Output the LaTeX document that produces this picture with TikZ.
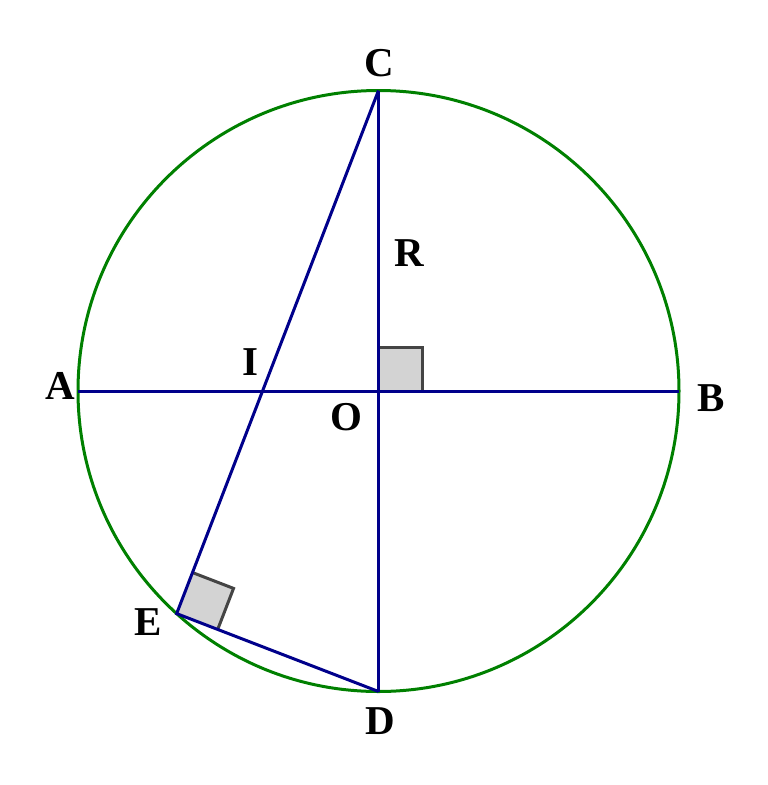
\documentclass[tikz,border=0pt]{standalone}
\usepackage{fontspec}
\setmainfont{Liberation Serif}
\usetikzlibrary{calc}
\definecolor{cgreen}{RGB}{0,128,0}
\definecolor{cnavy}{RGB}{0,0,139}
\definecolor{cfill}{RGB}{211,211,211}
\definecolor{cedge}{RGB}{68,68,68}
\tikzset{
  circ/.style={draw=cgreen, line width=3pt},
  seg/.style={draw=cnavy, line width=3pt},
  rightmark/.style={draw=cedge, line width=3pt},
  lbl/.style={font=\fontsize{41}{41}\selectfont\bfseries, inner sep=0pt}
}
\begin{document}
\begin{tikzpicture}[x=1pt,y=-1pt]
\useasboundingbox (0,0) rectangle (768,785);
\coordinate (O) at (378.5,391);
\def\rr{300.5}
\coordinate (A) at ($(O)+(-\rr,0)$);
\coordinate (B) at ($(O)+(\rr,0)$);
\coordinate (C) at ($(O)+(0,-\rr)$);
\coordinate (D) at ($(O)+(0,\rr)$);
\coordinate (E) at ($(O)+(132.2:\rr)$);
\coordinate (I) at (intersection of C--E and A--B);
% right angle marks
\coordinate (Oc) at ($(O)+(44,0)$);
\coordinate (Od) at ($(O)+(44,-44)$);
\coordinate (Oe) at ($(O)+(0,-44)$);
\fill[cfill] (O) rectangle (Od);
\draw[rightmark] (Oc) -- (Od) -- (Oe);
\coordinate (E1) at ($(E)!44pt!(C)$);
\coordinate (E2) at ($(E)!44pt!(D)$);
\coordinate (E3) at ($(E1)+(E2)-(E)$);
\fill[cfill] (E) -- (E1) -- (E3) -- (E2) -- cycle;
\draw[rightmark] (E1) -- (E3) -- (E2);
% circle
\draw[circ] (O) circle (\rr);
% segments
\draw[seg] (A) -- (B);
\draw[seg] (C) -- (D);
\draw[seg] (C) -- (E) -- (D);
% labels
\node[lbl] (lC) at (379.5,63) {C};
\node[lbl] (lR) at (409,253) {R};
\node[lbl] (lA) at (60,386) {A};
\node[lbl] (lI) at (250,362) {I};
\node[lbl] (lO) at (346,417) {O};
\node[lbl] (lB) at (711,398) {B};
\node[lbl] (lE) at (148,622) {E};
\node[lbl] (lD) at (380,721) {D};
\end{tikzpicture}
\end{document}
